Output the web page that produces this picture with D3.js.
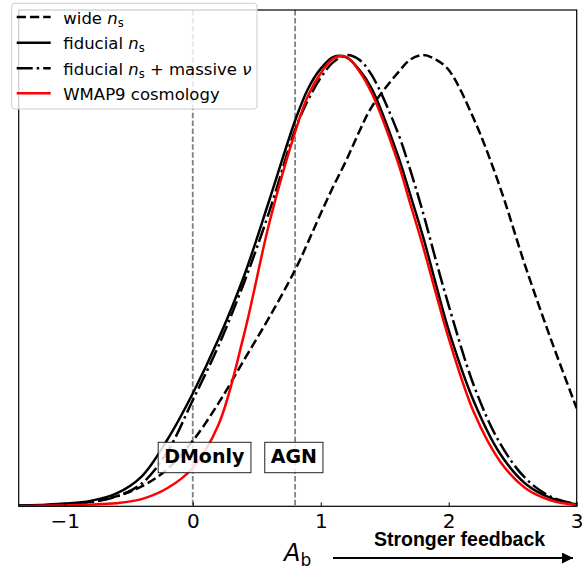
<!DOCTYPE html>
<html>
<head>
<meta charset="utf-8">
<script src="https://cdn.jsdelivr.net/npm/d3@7"></script>
<style>
body { margin: 0; background: #fff; }
svg { display: block; font-family: "DejaVu Sans", sans-serif; }
</style>
</head>
<body>
<svg id="chart" width="583" height="570"></svg>
<script>
// sampled A_b values (shared by all curves)
let xs = [-1.36, -1.2, -1.0, -0.8, -0.6, -0.4, -0.2, 0, 0.2, 0.4, 0.6, 0.8, 0.9, 1.0, 1.1, 1.2, 1.3, 1.4, 1.6, 1.7, 1.8, 1.9, 2.0, 2.2, 2.4, 2.6, 2.8, 3.0];

let wideNs     = [0.001, 0.002, 0.004, 0.010, 0.022, 0.044, 0.082, 0.145, 0.228, 0.324, 0.420, 0.524, 0.585, 0.649, 0.710, 0.767, 0.830, 0.886, 0.960, 0.990, 1.000, 0.990, 0.967, 0.856, 0.708, 0.531, 0.369, 0.217];
let fiducialNs = [0.001, 0.003, 0.006, 0.012, 0.028, 0.066, 0.147, 0.250, 0.370, 0.510, 0.680, 0.855, 0.925, 0.970, 0.996, 0.995, 0.968, 0.925, 0.780, 0.690, 0.597, 0.492, 0.390, 0.230, 0.117, 0.050, 0.018, 0.004];
let massiveNu  = [0.001, 0.002, 0.004, 0.009, 0.021, 0.050, 0.120, 0.235, 0.355, 0.495, 0.655, 0.835, 0.900, 0.950, 0.985, 1.000, 0.990, 0.955, 0.830, 0.745, 0.650, 0.545, 0.445, 0.265, 0.140, 0.062, 0.021, 0.005];
let wmap9      = [0.000, 0.001, 0.002, 0.004, 0.007, 0.016, 0.040, 0.085, 0.180, 0.380, 0.630, 0.830, 0.910, 0.960, 0.993, 0.996, 0.965, 0.915, 0.765, 0.670, 0.575, 0.472, 0.372, 0.206, 0.100, 0.040, 0.013, 0.003];

let xTicks = [-1, 0, 1, 2, 3];
let refLines = [0, 0.8];
let refLabels = ["DMonly", "AGN"];
let refLabelX = [0.09, 0.79];

let series = [
    {name: "wide", values: wideNs, color: "#000", dash: "9.25,4"},
    {name: "fiducial", values: fiducialNs, color: "#000", dash: null},
    {name: "massive", values: massiveNu, color: "#000", dash: "16,4,2.5,4"},
    {name: "wmap9", values: wmap9, color: "#ff0000", dash: null}
];

let plotLeft = 18.7, plotRight = 576.7, plotTop = 10, plotBottom = 506.3;

let x = d3.scaleLinear().domain([-1.36, 3.0]).range([plotLeft, plotRight]);
let y = d3.scaleLinear().domain([0, 1.1]).range([plotBottom, plotTop]);

let svg = d3.select("#chart");

svg.append("defs").append("clipPath").attr("id", "clip")
    .append("rect").attr("x", plotLeft).attr("y", plotTop).attr("width", plotRight - plotLeft).attr("height", plotBottom - plotTop);

// reference lines
svg.append("g")
    .selectAll("line")
    .data(refLines)
    .enter()
    .append("line")
    .attr("x1", function(d){ return x(d) })
    .attr("x2", function(d){ return x(d) })
    .attr("y1", plotTop)
    .attr("y2", plotBottom)
    .attr("stroke", "#808080")
    .attr("stroke-width", 1.8)
    .attr("stroke-dasharray", "5.5,2.4");

let line = d3.line()
    .x(function(d, i){ return x(xs[i]) })
    .y(function(d){ return y(d) })
    .curve(d3.curveCatmullRom.alpha(0.5));

svg.append("g").attr("clip-path", "url(#clip)")
    .selectAll("path")
    .data(series)
    .enter()
    .append("path")
    .attr("d", function(s){ return line(s.values) })
    .attr("fill", "none")
    .attr("stroke", function(s){ return s.color })
    .attr("stroke-width", 2.5)
    .attr("stroke-dasharray", function(s){ return s.dash });

// labelled boxes
let boxes = svg.append("g")
    .selectAll("g")
    .data(refLabels)
    .enter()
    .append("g");

boxes.append("text")
    .attr("x", function(d, i){ return x(refLabelX[i]) })
    .attr("y", 463.3)
    .attr("text-anchor", "middle")
    .attr("font-weight", "bold")
    .attr("font-size", "19px")
    .text(function(d){ return d });

boxes.each(function(){
    let g = d3.select(this);
    let bb = g.select("text").node().getBBox();
    g.insert("rect", "text")
        .attr("x", bb.x - 6)
        .attr("y", 442.3)
        .attr("width", bb.width + 12)
        .attr("height", 30.4)
        .attr("fill", "#fff")
        .attr("fill-opacity", 0.85)
        .attr("stroke", "#222")
        .attr("stroke-width", 1);
});

// frame and axis
svg.append("rect")
    .attr("x", plotLeft).attr("y", plotTop)
    .attr("width", plotRight - plotLeft).attr("height", plotBottom - plotTop)
    .attr("fill", "none").attr("stroke", "#000").attr("stroke-width", 1.2);

let axis = svg.append("g")
    .attr("transform", "translate(0," + plotBottom + ")")
    .call(d3.axisBottom(x).tickValues(xTicks).tickFormat(d3.format("d"))
        .tickSizeInner(-4).tickSizeOuter(0).tickPadding(8));
axis.select(".domain").remove();
axis.selectAll("line").attr("stroke", "#000").attr("stroke-width", 1);
axis.selectAll("text")
    .attr("font-family", "DejaVu Sans, sans-serif")
    .attr("font-size", "20px")
    .attr("fill", "#000");

// x label
let xl = svg.append("text").attr("x", 284).attr("y", 561).attr("font-size", "24px");
xl.append("tspan").attr("font-style", "italic").text("A");
xl.append("tspan").attr("font-size", "17px").attr("dy", 5).text("b");

// feedback arrow
svg.append("defs").append("marker")
    .attr("id", "head")
    .attr("viewBox", "0 0 10 10")
    .attr("refX", 10).attr("refY", 5)
    .attr("markerWidth", 13).attr("markerHeight", 11)
    .attr("markerUnits", "userSpaceOnUse")
    .attr("orient", "auto")
    .append("path").attr("d", "M0,0 L10,5 L0,10 Z").attr("fill", "#000");

svg.append("line")
    .attr("x1", 333).attr("x2", 573)
    .attr("y1", 558).attr("y2", 558)
    .attr("stroke", "#000").attr("stroke-width", 2)
    .attr("marker-end", "url(#head)");

svg.append("text")
    .attr("x", 459.5).attr("y", 545.5)
    .attr("text-anchor", "middle")
    .attr("font-family", "Liberation Sans, Arial, sans-serif")
    .attr("font-weight", "bold")
    .attr("font-size", "19.5px")
    .text("Stronger feedback");

// legend
let legend = svg.append("g");
legend.append("rect")
    .attr("x", 11.7).attr("y", 3.3)
    .attr("width", 245.3).attr("height", 105.7)
    .attr("rx", 3)
    .attr("fill", "#fff").attr("fill-opacity", 0.8)
    .attr("stroke", "#ccc").attr("stroke-width", 1);

let legendRows = [17, 42.7, 68.3, 93.3];
let items = legend.selectAll("g.item")
    .data(series)
    .enter()
    .append("g").attr("class", "item");

items.append("line")
    .attr("x1", 16.7).attr("x2", 50.7)
    .attr("y1", function(d, i){ return legendRows[i] })
    .attr("y2", function(d, i){ return legendRows[i] })
    .attr("stroke", function(s){ return s.color })
    .attr("stroke-width", 2.5)
    .attr("stroke-dasharray", function(s){ return s.dash });

let labels = items.append("text")
    .attr("x", 63.3)
    .attr("y", function(d, i){ return legendRows[i] + 6.5 })
    .attr("font-size", "16.5px");

labels.each(function(s){
    let t = d3.select(this);
    if (s.name == "wmap9") { t.text("WMAP9 cosmology"); return; }
    t.append("tspan").text(s.name == "wide" ? "wide " : "fiducial ");
    t.append("tspan").attr("font-style", "italic").text("n");
    t.append("tspan").attr("font-size", "11.5px").attr("dy", 3).text("s");
    if (s.name == "massive") {
        t.append("tspan").attr("dy", -3).text(" + massive ");
        t.append("tspan").attr("font-style", "italic").text("ν");
    }
});
</script>
</body>
</html>
